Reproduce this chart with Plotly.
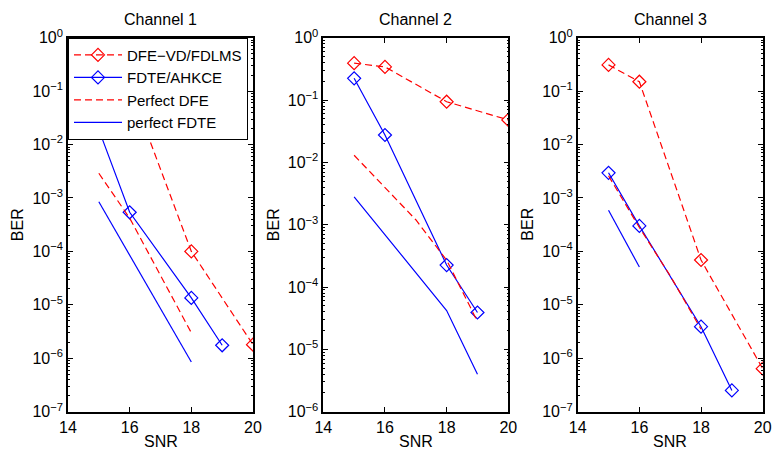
import plotly.graph_objects as go

# ---------------- data ----------------
# Channel 1
snr1_dfe = [15, 16, 18, 20]
ber1_dfe = [0.35, 0.12, 1.0e-4, 1.8e-6]
snr1_fdte = [15, 16, 18, 19]
ber1_fdte = [1.9e-2, 5.4e-4, 1.35e-5, 1.75e-6]
snr1_pdfe = [15, 16, 18]
ber1_pdfe = [2.9e-3, 4.2e-4, 3.0e-6]
snr1_pfdte = [15, 18]
ber1_pfdte = [8.5e-4, 8.5e-7]

# Channel 2
snr2_dfe = [15, 16, 18, 20]
ber2_dfe = [0.39, 0.34, 0.094, 0.048]
snr2_fdte = [15, 16, 18, 19]
ber2_fdte = [0.223, 0.0275, 2.25e-4, 3.9e-5]
snr2_pdfe = [15, 16, 17, 18, 19]
ber2_pdfe = [1.3e-2, 4.0e-3, 1.2e-3, 2.7e-4, 2.8e-5]
snr2_pfdte = [15, 16, 17, 18, 19]
ber2_pfdte = [2.8e-3, 7.0e-4, 1.7e-4, 4.2e-5, 4.0e-6]

# Channel 3
snr3_dfe = [15, 16, 18, 20]
ber3_dfe = [0.31, 0.15, 6.9e-5, 6.4e-7]
snr3_fdte = [15, 16, 18, 19]
ber3_fdte = [2.96e-3, 3.0e-4, 3.9e-6, 2.5e-7]
snr3_pdfe = [15, 16, 17, 18]
ber3_pdfe = [2.6e-3, 2.8e-4, 3.5e-5, 3.5e-6]
snr3_pfdte = [15, 16]
ber3_pfdte = [5.9e-4, 5.1e-5]

titles = ["Channel 1", "Channel 2", "Channel 3"]
names = ["DFE\u2212VD/FDLMS", "FDTE/AHKCE", "Perfect DFE", "perfect FDTE"]
x_ticks = [14, 16, 18, 20]
y_ranges = [(-7, 0), (-6, 0), (-7, 0)]

channels = [
    (snr1_dfe, ber1_dfe, snr1_fdte, ber1_fdte, snr1_pdfe, ber1_pdfe, snr1_pfdte, ber1_pfdte),
    (snr2_dfe, ber2_dfe, snr2_fdte, ber2_fdte, snr2_pdfe, ber2_pdfe, snr2_pfdte, ber2_pfdte),
    (snr3_dfe, ber3_dfe, snr3_fdte, ber3_fdte, snr3_pdfe, ber3_pdfe, snr3_pfdte, ber3_pfdte),
]

# ---------------- layout geometry ----------------
W, H = 773, 452
x_left = [68.0, 323.3, 577.7]
pw = 185.0
y_top, y_bot = 37.7, 411.7
RED = "rgb(255,0,0)"
BLUE = "rgb(0,0,255)"
DASH = "7px,4px"
FONT = "Liberation Sans, Arial, Helvetica, sans-serif"

fig = go.Figure()

for i, ch in enumerate(channels):
    xs = "x" if i == 0 else f"x{i+1}"
    ys = "y" if i == 0 else f"y{i+1}"
    sdfe, bdfe, sfd, bfd, spd, bpd, spf, bpf = ch
    show = (i == 0)
    fig.add_trace(go.Scatter(x=sdfe, y=bdfe, name=names[0], mode="lines+markers",
                             line=dict(color=RED, width=1.2, dash=DASH),
                             marker=dict(symbol="diamond-open", size=10, color=RED, line=dict(width=1.2)),
                             xaxis=xs, yaxis=ys, showlegend=show, legendrank=1))
    fig.add_trace(go.Scatter(x=sfd, y=bfd, name=names[1], mode="lines+markers",
                             line=dict(color=BLUE, width=1.2),
                             marker=dict(symbol="diamond-open", size=10, color=BLUE, line=dict(width=1.2)),
                             xaxis=xs, yaxis=ys, showlegend=show, legendrank=2))
    fig.add_trace(go.Scatter(x=spd, y=bpd, name=names[2], mode="lines",
                             line=dict(color=RED, width=1.2, dash=DASH),
                             xaxis=xs, yaxis=ys, showlegend=show, legendrank=3))
    fig.add_trace(go.Scatter(x=spf, y=bpf, name=names[3], mode="lines",
                             line=dict(color=BLUE, width=1.2),
                             xaxis=xs, yaxis=ys, showlegend=show, legendrank=4))

layout = dict(
    width=W, height=H, autosize=False,
    margin=dict(l=0, r=0, t=0, b=0, pad=0, autoexpand=False),
    paper_bgcolor="white", plot_bgcolor="white",
    font=dict(family=FONT, size=16, color="black"),
    showlegend=True,
    legend=dict(x=x_left[0] / W, y=1 - y_top / H, xanchor="left", yanchor="top",
                bgcolor="white", bordercolor="black", borderwidth=1,
                font=dict(family=FONT, size=15, color="black"),
                itemwidth=48, tracegroupgap=0, traceorder="normal"),
)

annotations = []
for i in range(3):
    sfx = "" if i == 0 else str(i + 1)
    lo, hi = y_ranges[i]
    yvals = [10.0 ** k for k in range(lo, hi + 1)]
    ytext = [f"10<sup>\u2212{-k}</sup>" if k < 0 else f"10<sup>{k}</sup>" for k in range(lo, hi + 1)]
    layout["xaxis" + sfx] = dict(
        domain=[x_left[i] / W, (x_left[i] + pw) / W],
        range=[14, 20], tickvals=x_ticks, ticktext=[str(v) for v in x_ticks],
        ticks="inside", ticklen=5, tickwidth=1, tickcolor="black",
        showline=True, linecolor="black", linewidth=1.6, mirror="allticks",
        showgrid=False, zeroline=False, anchor="y" + sfx, automargin=False,
        tickfont=dict(family=FONT, size=16),
    )
    layout["yaxis" + sfx] = dict(
        domain=[1 - y_bot / H, 1 - y_top / H],
        type="log", range=[lo, hi], tickvals=yvals, ticktext=ytext,
        ticks="inside", ticklen=5, tickwidth=1, tickcolor="black",
        minor=dict(ticks="inside", ticklen=2, tickcolor="black",
                   tickvals=[m * 10.0 ** k for k in range(lo, hi) for m in range(2, 10)]),
        showline=True, linecolor="black", linewidth=1.6, mirror="allticks",
        showgrid=False, zeroline=False, anchor="x" + sfx, automargin=False,
        tickfont=dict(family=FONT, size=16),
    )
    cx = (x_left[i] + pw / 2) / W
    annotations.append(dict(text=titles[i], x=cx, y=1 - 20 / H, xref="paper", yref="paper",
                            showarrow=False, xanchor="center", yanchor="middle",
                            font=dict(family=FONT, size=16)))
    annotations.append(dict(text="SNR", x=cx, y=1 - 441.5 / H, xref="paper", yref="paper",
                            showarrow=False, xanchor="center", yanchor="middle",
                            font=dict(family=FONT, size=16)))
    bx = [17.5, 273.5, 528.0][i]
    annotations.append(dict(text="BER", x=bx / W, y=1 - 224.7 / H, xref="paper", yref="paper",
                            showarrow=False, xanchor="center", yanchor="middle", textangle=-90,
                            font=dict(family=FONT, size=16)))
layout["annotations"] = annotations

fig.update_layout(**layout)
fig.write_html("out.html")
